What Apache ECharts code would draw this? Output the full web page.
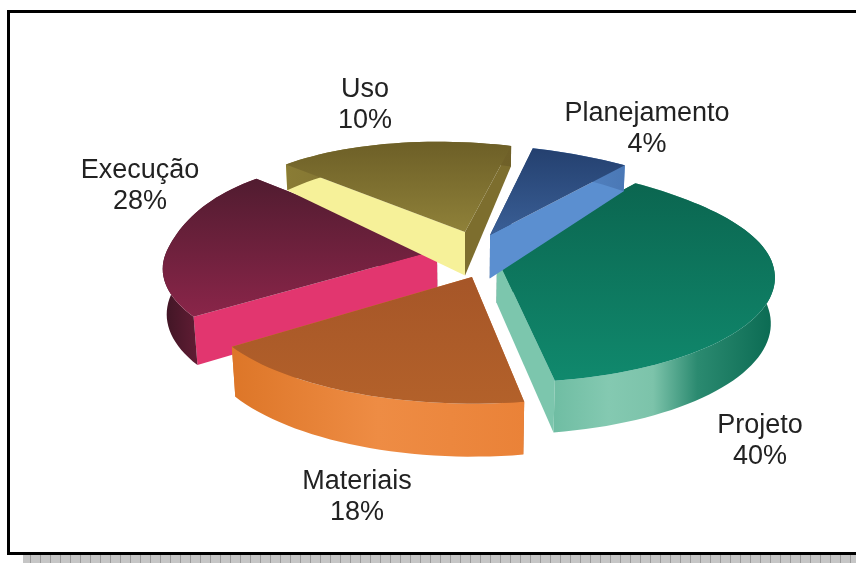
<!DOCTYPE html>
<html><head><meta charset="utf-8">
<style>html,body{margin:0;padding:0;background:#fff}#c{width:856px;height:563px;filter:blur(0.5px)}</style>
<script src="https://cdn.jsdelivr.net/npm/echarts@6/dist/echarts.min.js"></script>
</head><body><div id="c"></div>
<script>
const categories = ['Planejamento','Projeto','Materiais','Execução','Uso'];
const values = [4,40,18,28,10];
// The printed slices are not proportional to their labels: these are the shares as drawn.
const drawnShares = [6.9,37.5,17.4,22.9,15.3];
const radiusScale = [1,1,0.96,1,1];
const offsetX = [0.085,0.1065,0.017,-0.108,-0.0074];
const offsetY = [0.15,-0.0737,-0.246,0.002,0.18];
const labelAnchors = [[647,129],[760,441],[357,497],[140,186],[365,105]];
const topColors = [['#24406f','#3a5f96'],['#0b6650','#10896d'],['#a65628','#b3612a'],['#511c30','#8a2549'],['#6d5f27','#8f8139']];
const rimColors = [
  ['#5b8ccb','#4a78b6'],
  ['#6fbda3','#84c9b1','#7cc3aa','#2b8a70','#0a6a52'],
  ['#dd7628','#ee8c44','#ea8238'],
  ['#3e1524','#6e1f3a','#8a2448'],
  ['#8a7c35','#6f6028']];
const rimStops = [null,[0,0.25,0.45,0.65,1],null,null,null];
const startFace = ['#2a4a7c','#0a6a52','#c96a2c','#e2366f','#f6f199'];
const endFace = ['#5b8fd0','#7cc6ad','#e07a2a','#6e1f3c','#7d6e2e'];
const startFaceOnTop = [false,false,false,true,true];
const drawOrder = [1,3,4,2,0];
const startAngle = 11;
const cam = {cx:467,cy:291,f:1512,d:5.5,e:23.6*Math.PI/180,h:0.16,wall:0.175,fade:0.081};

function project(X,Y,Z){
  const s=Math.sin(cam.e),c=Math.cos(cam.e);
  const zc=cam.d+Y*c-Z*s, yc=Z*c+Y*s;
  return [cam.cx+cam.f*X/zc, cam.cy-cam.f*yc/zc];
}
function floorZ(Y){ return cam.h-(cam.wall-cam.fade*Math.max(0,Y-0.2)); }
const total=drawnShares.reduce((a,b)=>a+b,0);
function sliceAngles(i){
  let a=startAngle;
  for(let k=0;k<i;k++) a+=drawnShares[k]/total*360;
  return [a,a+drawnShares[i]/total*360];
}
function grad(colors,horizontal,stops){
  return {type:'linear',x:0,y:0,x2:horizontal?1:0,y2:horizontal?0:1,
    colorStops:colors.map((c,i)=>({offset:stops?stops[i]:(colors.length>1?i/(colors.length-1):0),color:c}))};
}
function renderSlice(params,api){
  const i=params.dataIndex;
  const [a0,a1]=sliceAngles(i);
  const ox=offsetX[i], oy=offsetY[i];
  const arcTop=[],arcBot=[];
  const n=Math.max(4,Math.round((a1-a0)/2));
  for(let k=0;k<=n;k++){
    const a=(a0+(a1-a0)*k/n)*Math.PI/180;
    const back=Math.pow(Math.max(Math.cos(a),0),2);
    const r=(0.97+0.1*back-0.15*Math.sin(a)*back)*radiusScale[i];
    const X=ox+r*Math.sin(a),Y=oy+r*Math.cos(a);
    arcTop.push(project(X,Y,cam.h)); arcBot.push(project(X,Y,floorZ(Y)));
  }
  const apexT=project(ox,oy,cam.h), apexB=project(ox,oy,floorZ(oy));
  const z=drawOrder.indexOf(i)*10;
  const poly=(pts,fill,zz)=>({type:'polygon',shape:{points:pts},style:{fill:fill,stroke:null},z2:z+zz,silent:true});
  return {type:'group',children:[
    poly([apexT,arcTop[0],arcBot[0],apexB],startFace[i],startFaceOnTop[i]?2:1),
    poly([apexT,arcTop[n],arcBot[n],apexB],endFace[i],startFaceOnTop[i]?1:2),
    poly(arcTop.concat(arcBot.slice().reverse()),grad(rimColors[i],true,rimStops[i]),3),
    poly([apexT].concat(arcTop),grad(topColors[i],false),4),
    {type:'text',x:labelAnchors[i][0],y:labelAnchors[i][1],z2:100,silent:true,
      style:{text:categories[i]+'\n'+values[i]+'%',fill:'#222',font:'27px "Liberation Sans"',
        lineHeight:31,align:'center',verticalAlign:'middle'}}
  ]};
}
function bandPattern(){
  const c=document.createElement('canvas');c.width=10;c.height=10;
  const g=c.getContext('2d');g.fillStyle='#c6c6c6';g.fillRect(0,0,10,10);
  g.fillStyle='#9a9a9a';g.fillRect(0,0,1,10);g.fillStyle='#a8a8a8';g.fillRect(0,4,10,1);
  return c;
}
const chart=echarts.init(document.getElementById('c'),null,{renderer:'canvas'});
chart.setOption({
  animation:false,backgroundColor:'#fff',
  graphic:[
    {type:'rect',shape:{x:23,y:553,width:833,height:10},style:{fill:{image:bandPattern(),repeat:'repeat'}},z:1},
    {type:'rect',shape:{x:7,y:10,width:849,height:3},style:{fill:'#000'},z:2},
    {type:'rect',shape:{x:7,y:10,width:3,height:545},style:{fill:'#000'},z:2},
    {type:'rect',shape:{x:7,y:552,width:849,height:3},style:{fill:'#000'},z:2}
  ],
  series:[{type:'custom',coordinateSystem:'none',renderItem:renderSlice,
    data:categories.map((n,i)=>({name:n,value:values[i]}))}]
});
</script></body></html>
